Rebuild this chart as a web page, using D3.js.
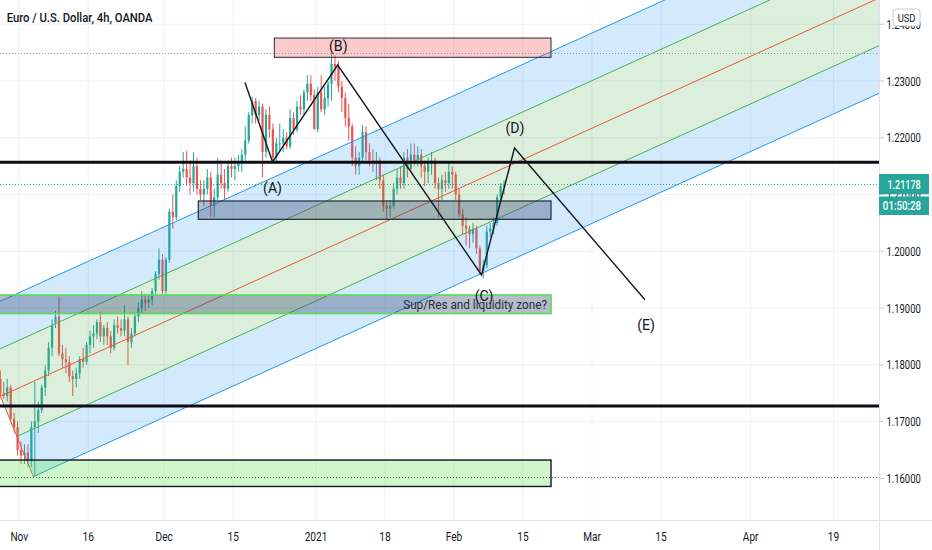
<!DOCTYPE html>
<html><head><meta charset="utf-8">
<script src="https://cdn.jsdelivr.net/npm/d3@7"></script>
<style>html,body{margin:0;padding:0;background:#fff;overflow:hidden}</style>
</head><body>
<svg id="chart" width="932" height="550"></svg>
<script>
// ---------------- DATA ----------------
const titleText = "Euro / U.S. Dollar, 4h, OANDA";
// x positions are trading-day indices (0 = Nov 2, 2020)
const timeTickIdx    = [0, 10, 21, 31, 43, 53, 63, 73, 83, 93, 106, 118];
const timeTickLabels = ["Nov","16","Dec","15","2021","18","Feb","15","Mar","15","Apr","19"];
const priceTicks = [1.16, 1.17, 1.18, 1.19, 1.20, 1.21, 1.22, 1.23, 1.24];
const firstCandleIdx = -2.75, candleStep = 0.5;   // 12h candles
// [open, high, low, close]
const candles = [
[1.1775,1.1790,1.1745,1.1750],[1.1750,1.1770,1.1740,1.1745],
[1.1745,1.1775,1.1735,1.1760],[1.1760,1.1765,1.1700,1.1705],
[1.1705,1.1715,1.1680,1.1690],[1.1690,1.1700,1.1640,1.1650],
[1.1650,1.1665,1.1625,1.1640],[1.1640,1.1660,1.1625,1.1645],
[1.1645,1.1660,1.1620,1.1630],[1.1630,1.1700,1.1620,1.1690],
[1.1690,1.1770,1.1603,1.1700],[1.1700,1.1735,1.1680,1.1720],
[1.1720,1.1765,1.1715,1.1760],[1.1760,1.1800,1.1745,1.1790],
[1.1790,1.1840,1.1780,1.1830],[1.1830,1.1880,1.1815,1.1870],
[1.1875,1.1895,1.1865,1.1885],[1.1885,1.1920,1.1815,1.1820],
[1.1820,1.1835,1.1795,1.1810],[1.1810,1.1830,1.1785,1.1805],
[1.1805,1.1815,1.1770,1.1780],[1.1780,1.1790,1.1745,1.1775],
[1.1775,1.1795,1.1760,1.1785],[1.1785,1.1815,1.1775,1.1810],
[1.1810,1.1830,1.1795,1.1805],[1.1805,1.1840,1.1800,1.1835],
[1.1835,1.1860,1.1820,1.1850],[1.1850,1.1870,1.1830,1.1855],
[1.1855,1.1880,1.1845,1.1875],[1.1875,1.1893,1.1840,1.1850],
[1.1850,1.1870,1.1835,1.1865],[1.1865,1.1875,1.1835,1.1850],
[1.1850,1.1860,1.1820,1.1830],[1.1830,1.1880,1.1825,1.1870],
[1.1870,1.1885,1.1855,1.1865],[1.1865,1.1880,1.1850,1.1860],
[1.1860,1.1905,1.1850,1.1880],[1.1880,1.1885,1.1800,1.1840],
[1.1840,1.1865,1.1830,1.1855],[1.1855,1.1890,1.1850,1.1885],
[1.1885,1.1910,1.1875,1.1900],[1.1900,1.1930,1.1890,1.1915],
[1.1915,1.1925,1.1895,1.1910],[1.1910,1.1925,1.1900,1.1915],
[1.1915,1.1935,1.1905,1.1930],[1.1930,1.1965,1.1925,1.1960],
[1.1960,1.2005,1.1950,1.1985],[1.1985,1.1995,1.1925,1.1930],
[1.1930,1.1990,1.1925,1.1985],[1.1985,1.2075,1.1980,1.2070],
[1.2070,1.2100,1.2040,1.2060],[1.2060,1.2125,1.2055,1.2115],
[1.2115,1.2150,1.2105,1.2140],[1.2140,1.2175,1.2130,1.2145],
[1.2145,1.2177,1.2115,1.2130],[1.2130,1.2160,1.2100,1.2120],
[1.2120,1.2175,1.2105,1.2150],[1.2150,1.2165,1.2100,1.2110],
[1.2110,1.2125,1.2090,1.2100],[1.2100,1.2125,1.2080,1.2110],
[1.2110,1.2145,1.2100,1.2130],[1.2130,1.2140,1.2060,1.2080],
[1.2080,1.2110,1.2060,1.2095],[1.2095,1.2165,1.2090,1.2135],
[1.2135,1.2160,1.2110,1.2120],[1.2120,1.2145,1.2090,1.2110],
[1.2110,1.2160,1.2105,1.2150],[1.2150,1.2165,1.2130,1.2145],
[1.2145,1.2165,1.2125,1.2150],[1.2150,1.2170,1.2140,1.2155],
[1.2155,1.2180,1.2140,1.2170],[1.2170,1.2220,1.2160,1.2195],
[1.2195,1.2245,1.2190,1.2240],[1.2240,1.2272,1.2225,1.2265],
[1.2265,1.2270,1.2225,1.2240],[1.2240,1.2265,1.2230,1.2255],
[1.2255,1.2260,1.2130,1.2175],[1.2175,1.2250,1.2165,1.2240],
[1.2240,1.2255,1.2200,1.2215],[1.2215,1.2225,1.2160,1.2165],
[1.2165,1.2200,1.2155,1.2190],[1.2190,1.2225,1.2175,1.2190],
[1.2190,1.2215,1.2175,1.2200],[1.2200,1.2210,1.2180,1.2185],
[1.2185,1.2250,1.2180,1.2235],[1.2235,1.2245,1.2205,1.2215],
[1.2215,1.2265,1.2210,1.2255],[1.2255,1.2275,1.2240,1.2250],
[1.2250,1.2285,1.2240,1.2280],[1.2280,1.2310,1.2265,1.2295],
[1.2295,1.2310,1.2265,1.2275],[1.2275,1.2285,1.2215,1.2215],
[1.2215,1.2290,1.2210,1.2280],[1.2280,1.2310,1.2245,1.2250],
[1.2250,1.2290,1.2240,1.2270],[1.2270,1.2300,1.2255,1.2295],
[1.2295,1.2349,1.2265,1.2330],[1.2330,1.2345,1.2300,1.2325],
[1.2325,1.2335,1.2280,1.2290],[1.2290,1.2300,1.2245,1.2270],
[1.2270,1.2280,1.2220,1.2235],[1.2235,1.2260,1.2195,1.2220],
[1.2220,1.2225,1.2150,1.2165],[1.2165,1.2185,1.2135,1.2150],
[1.2150,1.2175,1.2135,1.2165],[1.2165,1.2222,1.2155,1.2210],
[1.2210,1.2220,1.2160,1.2175],[1.2175,1.2190,1.2150,1.2160],
[1.2160,1.2180,1.2140,1.2155],[1.2155,1.2175,1.2125,1.2160],
[1.2160,1.2165,1.2110,1.2125],[1.2125,1.2135,1.2070,1.2080],
[1.2080,1.2090,1.2055,1.2075],[1.2075,1.2090,1.2060,1.2080],
[1.2080,1.2120,1.2075,1.2110],[1.2110,1.2145,1.2100,1.2130],
[1.2130,1.2150,1.2110,1.2120],[1.2120,1.2175,1.2110,1.2165],
[1.2165,1.2180,1.2130,1.2145],[1.2145,1.2190,1.2140,1.2170],
[1.2170,1.2190,1.2150,1.2160],[1.2160,1.2185,1.2150,1.2170],
[1.2170,1.2180,1.2130,1.2150],[1.2150,1.2160,1.2115,1.2140],
[1.2140,1.2165,1.2120,1.2155],[1.2155,1.2175,1.2135,1.2160],
[1.2160,1.2165,1.2110,1.2120],[1.2120,1.2130,1.2060,1.2110],
[1.2110,1.2135,1.2090,1.2125],[1.2125,1.2140,1.2105,1.2120],
[1.2120,1.2155,1.2110,1.2140],[1.2140,1.2150,1.2110,1.2135],
[1.2135,1.2140,1.2090,1.2100],[1.2100,1.2110,1.2060,1.2065],
[1.2065,1.2075,1.2030,1.2045],[1.2045,1.2060,1.2010,1.2040],
[1.2040,1.2045,1.2005,1.2030],[1.2030,1.2050,1.2015,1.2040],
[1.2040,1.2045,1.1995,1.2005],[1.2005,1.2010,1.1960,1.1965],
[1.1965,1.1985,1.1952,1.1975],[1.1975,1.2045,1.1970,1.2035],
[1.2035,1.2050,1.2025,1.2040],[1.2040,1.2060,1.2030,1.2050],
[1.2050,1.2100,1.2045,1.2095],[1.2095,1.2120,1.2085,1.2115],
[1.2115,1.2125,1.2100,1.2118]
];
const lastPrice = 1.21178;
const lastPriceLabel = "1.21178";
const countdownLabel = "01:50:28";
const currencyLabel = "USD";
const visibleHigh = 1.2349, visibleLow = 1.1603;
const horizontalLevels = [1.21567, 1.17274];
// pitchfork: two anchor points (idx, price), slope in price per trading day
const pfLowerPt = [2.03, 1.1603];
const pfUpperPt = [-7.49, 1.1886];
const pfSlope = 0.000551;
const pfLevels = [-1, -0.5, 0, 0.5, 1];
// rectangles: [idxStart, idxEnd, priceTop, priceBottom]
const boxSupply   = [36.96, 77.06, 1.23757, 1.23417];
const boxMid      = [25.94, 77.06, 1.20886, 1.20563];
const boxLiquid   = [-6, 77.06, 1.19229, 1.18903];
const boxDemand   = [-6, 77.06, 1.16322, 1.15856];
const liquidText = "Sup/Res and liquidity zone?";
// wave path (idx, price)
const wavePath = [[32.71,1.22973],[36.70,1.21573],[46.14,1.23282],[66.99,1.19582],[71.77,1.21819],[90.68,1.19145]];
const waveLabels = ["(A)","(B)","(C)","(D)","(E)"];
const waveLabelPos = [[36.70,1.21115],[46.23,1.23634],[67.35,1.19229],[71.84,1.22180],[90.83,1.18701]];

// ---------------- LAYOUT ----------------
const W = 932, H = 550, paneR = 879, paneB = 520;
const svg = d3.select("#chart");
const x = d3.scaleLinear().domain([0, 118]).range([19.3, 833.5]);
const y = d3.scaleLinear().domain([1.16, 1.23]).range([478.3, 81]);
const FONT = "Roboto, 'Noto Sans', 'DejaVu Sans', sans-serif";

svg.append("rect").attr("width", W).attr("height", H).attr("fill", "#fff");
svg.append("defs").append("clipPath").attr("id", "pane")
  .append("rect").attr("x", 0).attr("y", 0).attr("width", paneR).attr("height", paneB);

const meas = svg.append("text").attr("font-family", FONT).attr("visibility", "hidden");
function measure(str, size, weight) {
  meas.attr("font-size", size).attr("font-weight", weight || 400).text(str);
  return meas.node().getComputedTextLength();
}
function label(g, px, py, str, o) {
  o = o || {};
  return g.append("text")
    .attr("transform", `translate(${px},${py}) scale(${o.sx || 1},1)`)
    .attr("text-anchor", o.anchor || "start")
    .attr("font-family", FONT).attr("font-size", o.size || 12)
    .attr("font-weight", o.weight || 400).attr("fill", o.fill || "#131722")
    .text(str);
}

// grid
const grid = svg.append("g");
grid.selectAll("line.v").data(timeTickIdx).join("line")
  .attr("x1", d => x(d)).attr("x2", d => x(d)).attr("y1", 0).attr("y2", paneB)
  .attr("stroke", "#eef1f5").attr("stroke-width", 1);
grid.selectAll("line.h").data(priceTicks).join("line")
  .attr("x1", 0).attr("x2", paneR).attr("y1", d => y(d)).attr("y2", d => y(d))
  .attr("stroke", "#eef1f5").attr("stroke-width", 1);

const pane = svg.append("g").attr("clip-path", "url(#pane)");

// candles
const cg = pane.append("g");
const upC = "#26a69a", dnC = "#ef5350";
candles.forEach((c, k) => {
  const i = firstCandleIdx + k * candleStep;
  const cx = x(i), up = c[3] >= c[0], col = up ? upC : dnC;
  cg.append("line").attr("x1", cx).attr("x2", cx).attr("y1", y(c[1])).attr("y2", y(c[2]))
    .attr("stroke", col).attr("stroke-width", 1);
  const yt = Math.min(y(c[0]), y(c[3])), hb = Math.max(1, Math.abs(y(c[0]) - y(c[3])));
  cg.append("rect").attr("x", cx - 1.1).attr("width", 2.2).attr("y", yt).attr("height", hb).attr("fill", col);
});

// pitchfork
const mid = [(pfLowerPt[0] + pfUpperPt[0]) / 2, (pfLowerPt[1] + pfUpperPt[1]) / 2];
const half = [(pfUpperPt[0] - pfLowerPt[0]) / 2, (pfUpperPt[1] - pfLowerPt[1]) / 2];
const idxEnd = 130;
function lvlStart(k) { return [mid[0] + k * half[0], mid[1] + k * half[1]]; }
function lvlEnd(k) { const s = lvlStart(k); return [idxEnd, s[1] + pfSlope * (idxEnd - s[0])]; }
const P = p => [x(p[0]), y(p[1])];
const pfg = pane.append("g");
const bands = [[0.5, 1, "rgba(33,150,243,0.2)"], [0, 0.5, "rgba(76,175,80,0.2)"],
               [-0.5, 0, "rgba(76,175,80,0.2)"], [-1, -0.5, "rgba(33,150,243,0.2)"]];
bands.forEach(b => {
  const pts = [P(lvlStart(b[0])), P(lvlEnd(b[0])), P(lvlEnd(b[1])), P(lvlStart(b[1]))];
  pfg.append("path").attr("d", "M" + pts.map(p => p.join(",")).join("L") + "Z").attr("fill", b[2]);
});
const lvlColor = k => Math.abs(k) === 1 ? "#2196f3" : (k === 0 ? "#f0553a" : "#4caf50");
pfLevels.forEach(k => {
  const a = P(lvlStart(k)), b = P(lvlEnd(k));
  pfg.append("line").attr("x1", a[0]).attr("y1", a[1]).attr("x2", b[0]).attr("y2", b[1])
    .attr("stroke", lvlColor(k)).attr("stroke-width", 1);
});
{ const a = P(pfLowerPt), b = P(pfUpperPt);
  pfg.append("line").attr("x1", a[0]).attr("y1", a[1]).attr("x2", b[0]).attr("y2", b[1])
    .attr("stroke", "#f0553a").attr("stroke-width", 1); }

// boxes
function box(b, fill, stroke, sw) {
  pane.append("rect").attr("x", x(b[0])).attr("y", y(b[2]))
    .attr("width", x(b[1]) - x(b[0])).attr("height", y(b[3]) - y(b[2]))
    .attr("fill", fill).attr("stroke", stroke).attr("stroke-width", sw);
}
box(boxSupply, "rgba(242,80,80,0.3)", "#2a2e39", 1);
box(boxMid, "rgba(60,80,115,0.38)", "#1d2b3f", 1.2);
box(boxLiquid, "rgba(60,80,115,0.38)", "#55dd55", 1.6);
box(boxDemand, "rgba(80,230,60,0.28)", "#131722", 1.4);

// horizontal levels
horizontalLevels.forEach(p => {
  pane.append("line").attr("x1", 0).attr("x2", paneR).attr("y1", y(p)).attr("y2", y(p))
    .attr("stroke", "#0c0e14").attr("stroke-width", 3);
});
// high / low / last price dotted lines
[[visibleHigh, "#9598a1"], [visibleLow, "#6a6d78"], [lastPrice, "#26a69a"]].forEach(d => {
  pane.append("line").attr("x1", 0).attr("x2", paneR).attr("y1", Math.round(y(d[0])) + 0.5).attr("y2", Math.round(y(d[0])) + 0.5)
    .attr("stroke", d[1]).attr("stroke-width", 1).attr("stroke-dasharray", "1,2");
});

// wave path
pane.append("path").attr("d", d3.line().x(d => x(d[0])).y(d => y(d[1]))(wavePath))
  .attr("fill", "none").attr("stroke", "#131722").attr("stroke-width", 1.4);

// wave labels
const wl = pane.append("g");
const wSx = 19 / measure("(A)", 15);
waveLabels.forEach((s, k) => {
  const p = waveLabelPos[k];
  label(wl, x(p[0]), y(p[1]) + 5.5, s, {size: 15, anchor: "middle", sx: wSx, fill: "#131722"});
});
// zone text
{ const zs = 144 / measure(liquidText, 13.5);
  label(pane, x(boxLiquid[1]) - 4, (y(boxLiquid[2]) + y(boxLiquid[3])) / 2 + 5, liquidText,
        {size: 13.5, anchor: "end", sx: zs, fill: "#2a2e39"}); }

// title
{ const ts = 146 / measure(titleText, 13, 500);
  label(svg, 6.7, 22, titleText, {size: 13, weight: 500, sx: ts}); }

// axes borders
svg.append("line").attr("x1", paneR + 0.5).attr("x2", paneR + 0.5).attr("y1", 0).attr("y2", H)
  .attr("stroke", "#e0e3eb");
svg.append("line").attr("x1", 0).attr("x2", W).attr("y1", paneB + 0.5).attr("y2", paneB + 0.5)
  .attr("stroke", "#e0e3eb");

// price axis
const pa = svg.append("g");
const pSx = 34.3 / measure("1.23000", 12.5);
priceTicks.forEach(p => {
  pa.append("line").attr("x1", paneR).attr("x2", paneR + 5).attr("y1", y(p)).attr("y2", y(p)).attr("stroke", "#c8cbd3");
  label(pa, 886.5, y(p) + 4.5, d3.format(".5f")(p), {size: 12.5, sx: pSx, fill: "#131722"});
});
// time axis
const ta = svg.append("g");
const tSx = 22.7 / measure("2021", 12.5);
timeTickIdx.forEach((t, k) => {
  label(ta, x(t), 541, timeTickLabels[k], {size: 12.5, anchor: "middle", sx: tSx, fill: "#131722"});
});

// last price badges
const bs = 33.3 / measure(lastPriceLabel, 12.5, 500);
svg.append("rect").attr("x", paneR).attr("y", 174).attr("width", 50).attr("height", 20.3).attr("fill", "#26a69a");
label(svg, 904, 188.5, lastPriceLabel, {size: 12.5, weight: 500, anchor: "middle", sx: bs, fill: "#fff"});
const cs = 38.3 / measure(countdownLabel, 12.5, 500);
svg.append("rect").attr("x", paneR).attr("y", 196.5).attr("width", 50).attr("height", 18.5).attr("fill", "#26a69a");
label(svg, 902, 210, countdownLabel, {size: 12.5, weight: 500, anchor: "middle", sx: cs, fill: "#fff"});

// currency badge (covers most of the top price label, as in the reference)
svg.append("rect").attr("x", 893).attr("y", 9).attr("width", 27).attr("height", 17).attr("rx", 3)
  .attr("fill", "#fff").attr("stroke", "#c9ccd4");
label(svg, 906.5, 21.5, currencyLabel, {size: 11, anchor: "middle", sx: 0.85, fill: "#131722"});
</script>
</body></html>
